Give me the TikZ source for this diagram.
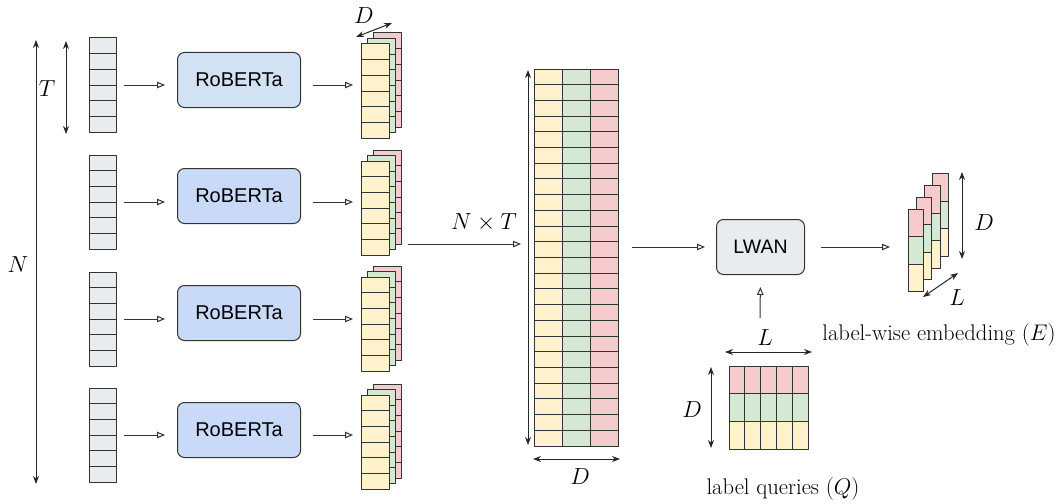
\documentclass[tikz,border=0pt]{standalone}
\usepackage{fontspec}
\newfontfamily\robfont{Liberation Sans}
\usetikzlibrary{arrows.meta,calc}

\definecolor{cellgrey}{HTML}{E8ECEE}
\definecolor{boxblueA}{HTML}{D0E2F3}
\definecolor{boxblueB}{HTML}{C9DAF8}
\definecolor{yel}{HTML}{FFF2CC}
\definecolor{grn}{HTML}{D5E8D4}
\definecolor{rd}{HTML}{F4CCCC}
\definecolor{edge}{HTML}{333333}

% enlarged labels (math fonts stop at 20.74pt)
\newcommand\dimlab[1]{\scalebox{1.12}{$#1$}}
\newcommand\captxt[1]{\scalebox{1.09}{#1}}

\begin{document}
\begin{tikzpicture}[x=1pt,y=-1pt,line join=round,
  grid/.style={draw=edge, line width=1pt},
  cellnode/.style={grid, inner sep=0pt, outer sep=0pt, anchor=north west},
  flow/.style={draw=edge, line width=1pt, -{Triangle[open,length=8pt,width=6.5pt]}},
  dim/.style={draw=black!85, line width=1pt, {Stealth[length=8pt,width=6pt]}-{Stealth[length=8pt,width=6pt]}},
  model/.style={draw=edge, line width=1pt, rounded corners=7pt, inner sep=0pt,
    minimum width=123pt, minimum height=55pt, anchor=north west,
    font=\robfont\fontsize{20}{24}\selectfont},
  lab/.style={inner sep=0pt, font=\fontsize{20.74}{25}\selectfont},
  captext/.style={inner sep=0pt, font=\fontsize{20.74}{25}\selectfont}]
\useasboundingbox (0,0) rectangle (1059,503);

% token columns of the four chunks
\foreach \i/\y in {1/38,2/155,3/272,4/388} {
  \node[cellnode, fill=cellgrey, minimum width=27pt, minimum height=94pt] (in\i) at (89,\y) {};
  \foreach \k in {1,...,5} \draw[grid] (89,{\y+\k*94/6}) -- ++(27,0);
}

% encoders
\foreach \i/\y/\col in {1/52/boxblueA,2/168/boxblueB,3/285/boxblueB,4/402/boxblueB}
  \node[model, fill=\col] (rb\i) at (177,\y) {RoBERTa};

% contextual embeddings per chunk (three stacked sheets)
\foreach \i/\y in {1/44,2/161,3/277,4/395} {
  \foreach \dx/\dy/\col/\s in {12/-11/rd/r, 6/-5.5/grn/g, 0/0/yel/y} {
    \node[cellnode, fill=\col, minimum width=28pt, minimum height=94pt] (st\i\s) at ({361+\dx},{\y+\dy}) {};
    \foreach \k in {1,...,5} \draw[grid] ({361+\dx},{\y+\dy+\k*94/6}) -- ++(28,0);
  }
}

% concatenated matrix
\foreach \j/\col in {0/yel,1/grn,2/rd} \fill[\col] ({534+28*\j},69) rectangle ++(28,377);
\foreach \k in {1,...,23} \draw[grid] (534,{69+\k*377/24}) -- ++(84,0);
\foreach \j in {1,2} \draw[grid] ({534+28*\j},69) -- ++(0,377);
\node[cellnode, minimum width=84pt, minimum height=377pt] (mat) at (534,69) {};

% attention block
\node[model, fill=cellgrey, minimum width=88pt, font=\robfont\fontsize{19.5}{23}\selectfont] (lwan) at (716,219) {LWAN};

% label-wise embeddings
\foreach \k in {3,2,1,0} {
  \pgfmathsetmacro\ex{908+8.3*\k}
  \pgfmathsetmacro\ey{209-11.7*\k}
  \fill[rd] (\ex,\ey) rectangle ++(15.5,27.5);
  \fill[grn] (\ex,{\ey+27.5}) rectangle ++(15.5,27.5);
  \fill[yel] (\ex,{\ey+55}) rectangle ++(15.5,27.5);
  \draw[grid] (\ex,{\ey+27.5}) -- ++(15.5,0) (\ex,{\ey+55}) -- ++(15.5,0);
  \node[cellnode, minimum width=15.5pt, minimum height=82.5pt] (emb\k) at (\ex,\ey) {};
}

% label queries
\fill[rd] (729,366) rectangle ++(79,27.67);
\fill[grn] (729,393.67) rectangle ++(79,27.67);
\fill[yel] (729,421.33) rectangle ++(79,27.67);
\foreach \k in {1,...,4} \draw[grid] ({729+15.8*\k},366) -- ++(0,83);
\draw[grid] (729,393.67) -- ++(79,0) (729,421.33) -- ++(79,0);
\node[cellnode, minimum width=79pt, minimum height=83pt] (q) at (729,366) {};

% connectors
\foreach \i in {1,...,4} {
  \draw[flow, shorten <=8pt, shorten >=12pt] (in\i.east) -- (rb\i.west |- in\i.east);
  \draw[flow, shorten <=12pt, shorten >=8pt] (rb\i.east |- in\i.east) -- (st\i y.west |- in\i.east);
}
\coordinate (ny) at (0,244);
\draw[flow, shorten <=7pt, shorten >=13pt] (st2r.east |- ny) -- (mat.west |- ny);
\node[lab] (ntlab) at (484,223) {\dimlab{N\times T}};
\draw[flow, shorten <=14pt, shorten >=11pt] (mat.east |- lwan.west) -- (lwan.west);
\draw[flow, shorten <=16pt, shorten >=18pt] (lwan.east) -- (emb0.west |- lwan.east);
\coordinate (qtop) at (760,318);
\draw[flow, shorten >=12pt] (qtop) -- (lwan.south);

% dimension arrows
\coordinate (nA) at (36,40);   \coordinate (nB) at (36,484);
\draw[dim] (nA) -- (nB);
\node[lab] (nlab) at (18,265) {\dimlab{N}};
\coordinate (tA) at (66,41);   \coordinate (tB) at (66,134);
\draw[dim] (tA) -- (tB);
\node[lab] (tlab) at (47,89) {\dimlab{T}};
\coordinate (sdA) at (356,37); \coordinate (sdB) at (392,23);
\draw[dim] (sdA) -- (sdB);
\node[lab] (sdlab) at (364,16) {\dimlab{D}};
\coordinate (mvA) at (528,70); \coordinate (mvB) at (528,445);
\draw[dim] (mvA) -- (mvB);
\coordinate (mdA) at (533,459); \coordinate (mdB) at (620,459);
\draw[dim] (mdA) -- (mdB);
\node[lab] (mdlab) at (580,477) {\dimlab{D}};
\coordinate (edA) at (962,172); \coordinate (edB) at (962,259);
\draw[dim] (edA) -- (edB);
\node[lab] (edlab) at (984,223) {\dimlab{D}};
\coordinate (elA) at (923,297); \coordinate (elB) at (958,273);
\draw[dim] (elA) -- (elB);
\node[lab] (ellab) at (957,298) {\dimlab{L}};
\coordinate (qlA) at (725,352); \coordinate (qlB) at (812,352);
\draw[dim] (qlA) -- (qlB);
\node[lab] (qllab) at (765,338) {\dimlab{L}};
\coordinate (qdA) at (711,367); \coordinate (qdB) at (711,448);
\draw[dim] (qdA) -- (qdB);
\node[lab] (qdlab) at (692,410) {\dimlab{D}};

% captions
\node[captext] (embcap) at (939,335) {\captxt{label-wise embedding $(E)$}};
\node[captext] (qcap) at (783,489) {\captxt{label queries $(Q)$}};
\end{tikzpicture}
\end{document}
